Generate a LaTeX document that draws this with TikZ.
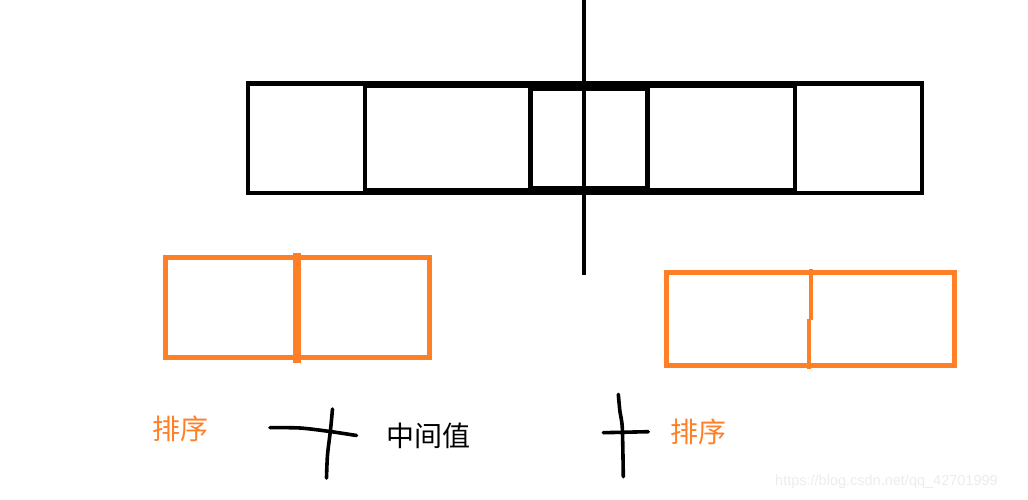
\documentclass[tikz,border=0pt]{standalone}
\usepackage{fontspec}
\newfontfamily\cjk{Noto Sans CJK SC}
\setsansfont{Liberation Sans}
\usepackage{tikz}
\definecolor{paintorange}{RGB}{255,127,39}
\definecolor{markgray}{RGB}{236,236,236}
\tikzset{
 blk/.style={line width=4.4pt},
 org/.style={draw=paintorange,line width=5pt},
 hand/.style={line width=3.6pt,line cap=round,line join=round},
 lbl/.style={inner sep=0pt,font=\cjk\fontsize{28}{28}\selectfont}
}

\begin{document}
\begin{tikzpicture}[x=1pt,y=-1pt]
 \useasboundingbox (0,0) rectangle (1028,500);
 \coordinate (MT) at (584,0); %中线上端
 \coordinate (MB) at (584,275); %中线下端

 %数组
 \draw[blk] (248,83.5) rectangle (922,193);
 \draw[blk] (365,86) rectangle (530,190.5);
 \draw[blk] (648,86) rectangle (795,190.5);
 \draw[blk] (531,88.5) rectangle (647,188.5);
 \draw[line width=3.6pt] (MT)--(MB); %中线

 %左半部分
 \draw[org] (165,257.5) rectangle (429.5,357);
 \draw[draw=paintorange,line width=8pt] (297,252.5)--(297,362.5);
 %右半部分
 \draw[org] (666.5,272.5) rectangle (954,365);
 \draw[draw=paintorange,line width=4pt] (810.5,269)--(810.5,319.5);
 \draw[draw=paintorange,line width=4.5pt] (809,318.5)--(809,369);

 %手写的十字
 \draw[hand] plot[smooth] coordinates {(270,427.7) (300,428) (330,431.5) (356.5,435.5)};
 \draw[hand] plot[smooth] coordinates {(332.5,409) (330.5,430) (327.5,455) (326.5,478)};
 \draw[hand] plot[smooth] coordinates {(618.3,394.3) (620,412) (622.3,428) (623.3,476.7)};
 \draw[hand] (603.3,432.7)--(648.3,431.7);

 \node[lbl,text=paintorange] (sortL) at (180,429) {排序};
 \node[lbl] (mid) at (428.5,435.5) {中间值};
 \node[lbl,text=paintorange] (sortR) at (698,432) {排序};
 \node[anchor=west,inner sep=0pt,text=markgray,font=\sffamily\fontsize{14.5}{14.5}\selectfont] (wm) at (775,482) {https://blog.csdn.net/qq\_42701999};
\end{tikzpicture}
\end{document}
